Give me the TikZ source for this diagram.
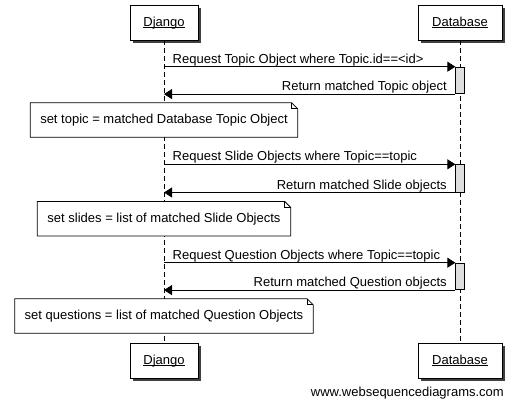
\documentclass[tikz,border=0pt]{standalone}
\usepackage{fontspec}
\setmainfont{Liberation Sans}
\usetikzlibrary{arrows.meta}

\newcommand{\actorname}[1]{\underline{\smash{#1}}}

\begin{document}
\begin{tikzpicture}[x=1pt, y=-1pt,
    every node/.style={font=\fontsize{13}{15}\selectfont},
    actor/.style={draw, fill=white, line width=0.8pt, minimum height=35pt, inner xsep=13pt,
        text height=10pt, text depth=3pt},
    shade box/.style={fill=black!75, minimum height=35pt, inner sep=0pt},
    lifeline/.style={line width=0.8pt, dash pattern=on 5pt off 3pt},
    bar/.style={draw, fill=black!13, line width=0.8pt, minimum width=8.5pt, inner sep=0pt},
    msg/.style={line width=0.8pt, -{Triangle[length=8pt, width=10pt]}},
    note/.style={fill=white, minimum height=34pt, inner xsep=7pt},
    notebox/.style={line width=0.8pt, line join=miter}
    ]

    % Frame
    \useasboundingbox (0,0) rectangle (513,400);

    % Shadows of the participants
    \foreach \n/\x/\y/\w in {djangosh/164/22.5/68, dbsh/460/22.5/84, django2sh/164/360.5/68, db2sh/460/360.5/84}
    \node[shade box, minimum width=\w pt] (\n) at ([shift={(3pt,-3pt)}]\x,\y) {};

    % Participants
    \node[actor, minimum width=68pt] (django) at (164,22.5) {\actorname{Django}};
    \node[actor, minimum width=84pt] (db) at (460,22.5) {\actorname{Database}};
    \node[actor, minimum width=68pt] (django2) at (164,360.5) {\actorname{Django}};
    \node[actor, minimum width=84pt] (db2) at (460,360.5) {\actorname{Database}};

    % Lifelines
    \draw[lifeline] (django.south) -- (django2.north);
    \draw[lifeline] (db.south) -- (db2.north);

    % Messages
    \foreach \i/\y/\h/\req/\ret in {
        1/66.7/26.6/{Request Topic Object where Topic.id==<id>}/{Return matched Topic object},
        2/164.3/27.4/{Request Slide Objects where Topic==topic}/{Return matched Slide objects},
        3/262.7/26.6/{Request Question Objects where Topic==topic}/{Return matched Question objects}}
    {
        \node[bar, minimum height=\h pt, anchor=north] (act\i) at (db.south |- 0,\y) {};
        \coordinate (req\i) at (django.south |- act\i.north);
        \coordinate (ret\i) at (django.south |- act\i.south);
        \draw[msg] (req\i) -- (act\i.north west);
        \draw[msg] (act\i.south west) -- (ret\i);
        \node[anchor=base west, inner sep=0pt] at ([shift={(8.5pt,3.5pt)}]req\i) {\req};
        \node[anchor=base east, inner sep=0pt] at ([shift={(-8.5pt,3.5pt)}]act\i.south west) {\ret};
    }

    % Notes
    \foreach \i/\y/\w/\txt in {
        1/120/267/{set topic = matched Database Topic Object},
        2/218.7/253/{set slides = list of matched Slide Objects},
        3/316/298/{set questions = list of matched Question Objects}}
    {
        \node[note, minimum width=\w pt] (note\i) at (django.south |- 0,\y) {\txt};
        \draw[notebox] (note\i.south west) |- ([xshift=-6pt]note\i.north east)
            -- ([yshift=-6pt]note\i.north east) -- (note\i.south east) -- cycle;
        \draw[notebox] ([xshift=-6pt]note\i.north east) |- ([yshift=-6pt]note\i.north east);
    }

    \node[anchor=east, inner sep=0pt] (wsd) at (504,393) {www.websequencediagrams.com};

\end{tikzpicture}
\end{document}
